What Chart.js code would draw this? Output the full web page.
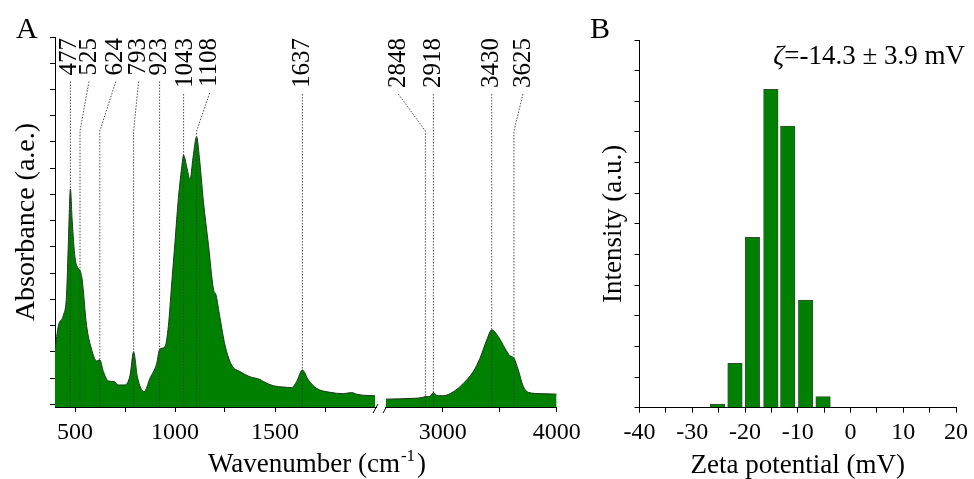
<!DOCTYPE html>
<html>
<head>
<meta charset="utf-8">
<script src="https://cdn.jsdelivr.net/npm/chart.js@4/dist/chart.umd.min.js"></script>
<style>
  html, body { margin: 0; padding: 0; background: #fff; }
  #wrap { position: relative; width: 974px; height: 479px; }
  #wrap canvas { position: absolute; left: 0; top: 0; }
</style>
</head>
<body>
<div id="wrap">
  <canvas id="ftirLow" width="974" height="479"></canvas>
  <canvas id="ftirHigh" width="974" height="479"></canvas>
  <canvas id="zeta" width="974" height="479"></canvas>
</div>
<script>
// ---- FTIR spectrum, low wavenumber segment (cm-1) ----
const wnLow = [400, 417, 442, 458, 467, 477, 486, 500, 515, 525, 535, 558, 583, 608, 624, 642,
  667, 695, 717, 750, 775, 793, 812, 845, 875, 908, 923, 950, 967, 983, 1000, 1017, 1033, 1043,
  1060, 1075, 1090, 1108, 1122, 1142, 1167, 1192, 1205, 1225, 1250, 1283, 1325, 1375, 1425, 1442,
  1492, 1542, 1583, 1608, 1637, 1667, 1708, 1775, 1842, 1883, 1908, 1942, 2000];
const absLow = [0.21, 0.30, 0.34, 0.42, 0.62, 0.82, 0.70, 0.56, 0.52, 0.51, 0.48, 0.30, 0.21, 0.165, 0.17, 0.125,
  0.089, 0.087, 0.074, 0.074, 0.11, 0.20, 0.105, 0.048, 0.10, 0.155, 0.21, 0.22, 0.30, 0.455, 0.62, 0.786, 0.90, 0.95,
  0.90, 0.856, 0.94, 1.02, 0.94, 0.774, 0.61, 0.44, 0.417, 0.33, 0.226, 0.15, 0.125, 0.105, 0.095, 0.087,
  0.071, 0.066, 0.064, 0.087, 0.131, 0.093, 0.061, 0.046, 0.041, 0.045, 0.039, 0.035, 0.033];

// ---- FTIR spectrum, high wavenumber segment (cm-1) ----
const wnHigh = [2500, 2742, 2820, 2848, 2870, 2895, 2918, 2945, 2975, 3005, 3093, 3181, 3268, 3327,
  3386, 3430, 3488, 3546, 3590, 3625, 3663, 3707, 3751, 3854, 4000];
const absHigh = [0.02, 0.023, 0.026, 0.03, 0.029, 0.033, 0.045, 0.035, 0.033, 0.033, 0.048, 0.08, 0.125, 0.176,
  0.245, 0.284, 0.258, 0.214, 0.185, 0.176, 0.131, 0.068, 0.046, 0.041, 0.039];

// Assigned band positions
const peaksLow = [477, 525, 624, 793, 923, 1043, 1108, 1637];
const peaksHigh = [2848, 2918, 3430, 3625];

// Axis ticks
const ticksLow = [500, 750, 1000, 1250, 1500, 1750];
const labelsLow = [500, 1000, 1500];
const ticksHigh = [3000, 3500, 4000];
const labelsHigh = [3000, 4000];
const absTicks = [0, 0.1, 0.2, 0.3, 0.4, 0.5, 0.6, 0.7, 0.8, 0.9, 1.0, 1.1, 1.2, 1.3, 1.4];

// ---- Zeta potential distribution ----
const zetaPotential = [-25.2, -21.9, -18.6, -15.1, -11.9, -8.5, -5.2];
const zetaIntensity = [0.12, 1.45, 5.56, 10.39, 9.19, 3.51, 0.36];
const zetaTicks = [-40, -35, -30, -25, -20, -15, -10, -5, 0, 5, 10, 15, 20];
const zetaLabels = [-40, -30, -20, -10, 0, 10, 20];
const intensityTicks = [0, 1, 2, 3, 4, 5, 6, 7, 8, 9, 10, 11, 12];
const zetaNote = '=-14.3 \u00b1 3.9 mV';

// ---- layout / style ----
const SERIF = '"Liberation Serif", "Times New Roman", serif';
const GREEN = '#008000';
const OUTLINE = '#1f3a1f';
// horizontal offset (px) of each band label from its band line
const shiftLow = [-1, 9, 16, 5, 0, 2, 13, 0];
const shiftHigh = [-27, 0, 0, 9];

Chart.defaults.font.family = SERIF;
Chart.defaults.color = '#000';

const PLOT_TOP = 37;
const PLOT_BOTTOM = 407;
const H = 479;

function tickGrid() {
  return { drawOnChartArea: false, drawTicks: true, tickLength: 5, color: '#000', lineWidth: 1, offset: false };
}
function fixedTicks(list) {
  return scale => { scale.ticks = list.map(v => ({ value: v })); };
}

// Band labels with dotted leader lines
function bandLabels(peaks, shifts) {
  return {
    id: 'bandLabels',
    afterDatasetsDraw(chart) {
      const { ctx, chartArea, scales: { x } } = chart;
      const labelTop = chartArea.top + 1;
      const bendY = chartArea.top + 94;
      ctx.save();
      ctx.font = '25px ' + SERIF;
      peaks.forEach((wn, i) => {
        const px = x.getPixelForValue(wn);
        const lx = px + shifts[i];
        const text = String(wn);
        const w = ctx.measureText(text).width;
        ctx.save();
        ctx.translate(lx, labelTop);
        ctx.rotate(-Math.PI / 2);
        ctx.textAlign = 'right';
        ctx.textBaseline = 'middle';
        ctx.fillStyle = '#000';
        ctx.fillText(text, 0, 0);
        ctx.restore();

        const y0 = labelTop + w + 6;
        ctx.beginPath();
        ctx.setLineDash([1.5, 1.5]);
        ctx.strokeStyle = '#3a3a3a';
        ctx.lineWidth = 0.9;
        if (Math.abs(shifts[i]) >= 4) {
          ctx.moveTo(lx, y0);
          ctx.lineTo(px, bendY);
        } else {
          ctx.moveTo(px, y0);
        }
        ctx.lineTo(px, chartArea.bottom);
        ctx.stroke();
      });
      ctx.restore();
    }
  };
}

// Panel letter, x-axis title with superscript, axis break marks
const ftirDecor = {
  id: 'ftirDecor',
  afterDraw(chart) {
    const { ctx, chartArea } = chart;
    ctx.save();
    ctx.fillStyle = '#000';
    ctx.font = '30px ' + SERIF;
    ctx.textBaseline = 'alphabetic';
    ctx.fillText('A', 16, 38);

    // x-axis title: Wavenumber (cm^-1)
    const main = 'Wavenumber (cm', sup = '-1', tail = ')';
    ctx.font = '27px ' + SERIF;
    const wMain = ctx.measureText(main).width;
    const wTail = ctx.measureText(tail).width;
    ctx.font = '17px ' + SERIF;
    const wSup = ctx.measureText(sup).width;
    const cx = chartArea.left + 262;
    const base = 472;
    let xs = cx - (wMain + wSup + wTail + 3) / 2;
    ctx.textAlign = 'left';
    ctx.font = '27px ' + SERIF;
    ctx.fillText(main, xs, base);
    ctx.font = '17px ' + SERIF;
    ctx.fillText(sup, xs + wMain + 1, base - 11);
    ctx.font = '27px ' + SERIF;
    ctx.fillText(tail, xs + wMain + wSup + 3, base);

    // axis break
    ctx.strokeStyle = '#000';
    ctx.lineWidth = 1;
    const r = chartArea.right;
    const yb = chartArea.bottom;
    ctx.beginPath();
    ctx.moveTo(r - 3, yb + 6); ctx.lineTo(r + 2, yb - 3);
    ctx.moveTo(r + 7, yb + 6); ctx.lineTo(r + 12, yb - 3);
    ctx.stroke();
    ctx.restore();
  }
};

const absScale = (show) => ({
  display: show,
  min: -0.01, max: 1.4,
  afterBuildTicks: fixedTicks(absTicks),
  afterFit: s => { s.width = show ? 55 : 0; },
  ticks: { display: false },
  grid: tickGrid(),
  border: { display: true, color: '#000', width: 1 },
  title: {
    display: show, text: 'Absorbance (a.e.)', color: '#000',
    font: { family: SERIF, size: 28 }, padding: { top: 10, bottom: 0 }
  }
});

function wnScale(min, max, ticks, labels) {
  return {
    type: 'linear', min, max,
    afterBuildTicks: fixedTicks(ticks),
    afterFit: s => { s.height = H - PLOT_BOTTOM; },
    ticks: {
      autoSkip: false, maxRotation: 0, padding: 6, color: '#000',
      font: { family: SERIF, size: 24 },
      callback: v => labels.includes(v) ? String(v) : ''
    },
    grid: tickGrid(),
    border: { display: true, color: '#000', width: 1 }
  };
}

function spectrumDataset(xs, ys) {
  return {
    data: xs.map((x, i) => ({ x, y: ys[i] })),
    fill: 'start',
    backgroundColor: GREEN,
    borderColor: OUTLINE,
    borderWidth: 1,
    pointRadius: 0,
    cubicInterpolationMode: 'monotone'
  };
}

const common = {
  responsive: false,
  animation: false,
  events: [],
  plugins: { legend: { display: false }, tooltip: { enabled: false } }
};

new Chart(document.getElementById('ftirLow'), {
  type: 'line',
  data: { datasets: [spectrumDataset(wnLow, absLow)] },
  options: {
    ...common,
    layout: { padding: { left: 0, right: 974 - 376, top: PLOT_TOP, bottom: 0 } },
    scales: { x: wnScale(400, 2005, ticksLow, labelsLow), y: absScale(true) }
  },
  plugins: [bandLabels(peaksLow, shiftLow), ftirDecor]
});

new Chart(document.getElementById('ftirHigh'), {
  type: 'line',
  data: { datasets: [spectrumDataset(wnHigh, absHigh)] },
  options: {
    ...common,
    layout: { padding: { left: 385.7, right: 974 - 556.7, top: PLOT_TOP, bottom: 0 } },
    scales: { x: wnScale(2500, 4000, ticksHigh, labelsHigh), y: absScale(false) }
  },
  plugins: [bandLabels(peaksHigh, shiftHigh)]
});

// Panel B decorations: letter and zeta value
const zetaDecor = {
  id: 'zetaDecor',
  afterDraw(chart) {
    const { ctx } = chart;
    ctx.save();
    ctx.fillStyle = '#000';
    ctx.textBaseline = 'alphabetic';
    ctx.font = '30px ' + SERIF;
    ctx.textAlign = 'left';
    ctx.fillText('B', 590, 38);
    ctx.font = '27px ' + SERIF;
    ctx.textAlign = 'right';
    const right = 965;
    const wRest = ctx.measureText(zetaNote).width;
    ctx.fillText(zetaNote, right, 64);
    ctx.font = 'italic 27px ' + SERIF;
    ctx.fillText('\u03b6', right - wRest, 64);
    ctx.restore();
  }
};

new Chart(document.getElementById('zeta'), {
  type: 'bar',
  data: {
    datasets: [{
      data: zetaPotential.map((x, i) => ({ x, y: zetaIntensity[i] })),
      backgroundColor: GREEN,
      borderColor: '#2f4f2f',
      borderWidth: 1,
      barThickness: 14.5
    }]
  },
  options: {
    ...common,
    layout: { padding: { left: 639.5 - 50, right: 974 - 959, top: 40, bottom: 0 } },
    scales: {
      x: {
        type: 'linear', min: -40, max: 20, offset: false,
        afterBuildTicks: fixedTicks(zetaTicks),
        afterFit: s => { s.height = H - 407.7; },
        ticks: {
          autoSkip: false, maxRotation: 0, padding: 6, color: '#000',
          font: { family: SERIF, size: 24 },
          callback: v => zetaLabels.includes(v) ? String(v) : ''
        },
        grid: tickGrid(),
        border: { display: true, color: '#000', width: 1 },
        title: {
          display: true, text: 'Zeta potential (mV)', color: '#000',
          font: { family: SERIF, size: 27, lineHeight: 1 }, padding: { top: 0, bottom: 0 }
        }
      },
      y: {
        min: 0, max: 12,
        afterBuildTicks: fixedTicks(intensityTicks),
        afterFit: s => { s.width = 50; },
        ticks: { display: false },
        grid: tickGrid(),
        border: { display: true, color: '#000', width: 1 },
        title: {
          display: true, text: 'Intensity (a.u.)', color: '#000',
          font: { family: SERIF, size: 27 }, padding: { top: 8, bottom: 0 }
        }
      }
    }
  },
  plugins: [zetaDecor]
});
</script>
</body>
</html>
